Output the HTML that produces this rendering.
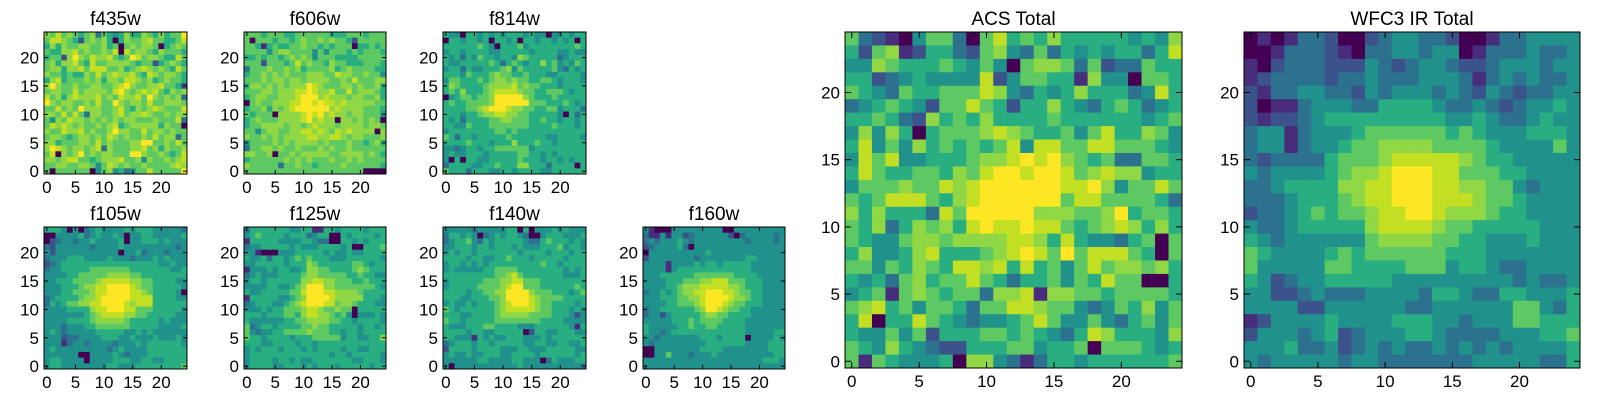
<!DOCTYPE html>
<html><head><meta charset="utf-8"><style>
html,body{margin:0;padding:0;background:#fff;}
svg{display:block;font-family:"Liberation Sans",sans-serif;}
</style></head><body>
<svg id="fig" width="1600" height="400" viewBox="0 0 1600 400" xmlns="http://www.w3.org/2000/svg"></svg>
<script>
const tickValues = [0, 5, 10, 15, 20];
const viridis = ["#440154","#472d7b","#3b528b","#2c728e","#21918c","#28ae80","#5ec962","#8fd744","#c2df23","#fde725"];
// rows listed top (y=24) to bottom (y=0); digits 0-9 are intensity levels
const f435w = ["7686765673654575576575669","6887652676750576678665568","5757667766756067677605676","6557786766768086776576665","5662797687786569867765586","6757786586677776566256765","6775778688866756787676586","7665655768678778658767765","5785666767577688767567665","7976676677667897667786652","6776686777768976787865767","8675787778676877869767673","9767766768669767768667776","6686769777667865767876668","7768686377667867787667677","6476877676767677666766683","6878767667678567777757660","7668778676679776686776766","6776567767687676676867736","7756667768676667799667686","7987677678376667786757667","6807679676776669976676568","7767886656777866747667678","6677667764687676676666787","6066666604674534668666669"];
const f606w = ["6665666556666665556665666","6066656656766767665266666","6651565566766565666055656","6666467766664646665656665","5565665676764666555566666","6662666568676657665556665","3666766767566667567666655","5667676766677766877667664","6667677677677776676866677","5776767677798766677676675","6667767778898778668677765","5677667778999787776776675","0676677788998988787777766","5667576789999997877776665","6566607777898978776776664","5676667777897877077676760","5667777677678777677776776","6646776677887876878777707","7667676777788778876776667","4666676767777676667665675","3667767667666767667666666","7766706676777776677776765","5666666767676667667676666","7666663667665666676666665","6666666666666666666660000"];
const f814w = ["5440554545455545440445455","0554554505545055455454505","5555556540555645555555565","4554555544555554555544544","5453546554554765555534555","5445555565356545575645465","4553544555674655555643545","5554655567665565554455554","4665556567767665566545554","5765555677778676655545555","5657555678888766556665455","0456656679999976555655555","5655666679999996665556545","5555667899987766556645553","5554556778877665555540535","5453555566776665565545545","5544655566666665555655545","4555555556656555555555555","6535545555565555554455554","5555655545557555655455555","4434554556666664555555555","4544555455555665545455555","4050554455555655545545455","3555544556555775553555505","6555355544554555544555555"];
const f105w = ["5554040345444454555444443","0044445345445404455444445","0234434454444504455545444","3244444434444544444444434","4244444444444044534443444","3444555444454443444545444","2345555555555555555544544","3445555566666665555555445","4444556666677776655555555","4455566667888887766555544","4445556778899998766555554","4445566678899998876555540","3455556778999998888555544","3545667788999987888555555","4444555578899988666555554","4444444567888877665555544","4444555567777765555545444","4443444556666665555544445","4543444445555544545444444","4442334444555445444544454","4441344344443444545555554","4544444444434544445555555","4444440044445434445555555","4554444044445554455445555","4554444444455444555555556"];
const f125w = ["3555555544551155455554555","4565555455534550054555545","1555554444554330055454555","3445555545444555545005556","4410004445555545445445555","5445355456565554445555554","4455555455576555555665455","1444545544577665555676555","3454445555677666665565544","4554555555778877666556555","4444554456799977666666654","5445555566899988777765555","1555554456799998777775554","3455544567899988677655544","4445455666788766766055555","5554555665788776564044454","5444444556677776655455554","6345545555667665555545545","6434455666676665545545555","6554555545556666645544557","5554455554554555555555555","4545554555454555545544555","4555555555555554554555554","4555545545445555555445554","4555544555454555455555455"];
const f140w = ["4444434444455050444545444","3554540345455430045554445","3455643545555543356555454","4455545545554544455564554","4545545555555455554555455","5555455445565554555554555","4554545455555555565545555","4544444556666555555554545","5555555556678655555554445","4555555666778866655555555","4555556666789966655555565","5555455667799997666555456","5554455566799998766665555","4544545556789998766555545","6545555556788888766555454","5554455556777776666555424","6554555556666666655554444","5444555665555444555555415","5555455445555502554455544","5544415454455544454555555","3455545545555544554455445","2555545555444554445555544","4544544555445555455555545","4444445544445544403544455","4044444444444544444444443"];
const f160w = ["4100044444444400444444444","3114144234444442034444434","3434445434444444443444434","2344445304444444444444444","0444444444454444444444444","2444444443444444445544444","4444144445455455555444444","4444145555555555555444444","4445555556666666555544444","4444555666778886665554444","4444556777888887765554444","3445456778899988766554444","4445556677899998776554444","4444556667899987665554444","3445555556799876655444444","3442455555677665555444444","4444455565666655554444444","5444445565566555554444444","5443455555555555554444455","4434444444555455550444454","4344444444455555554444555","0044444444555544444444555","0044644434445444444444455","4444444444444444444445554","4444444444444444444444444"];
const acsTotal = ["6321046630685657555554547","5267125532674363545455358","4476555654640677636233655","5523454444824665517440665","6543655666874354575553485","3456542668652557543565345","5565327565755556555555456","4747505666787655646855764","5846475656568488668866654","4868445556778989765633665","5865566576899899867877455","4666766878999999889746686","6568886578999999688666653","7575553869999977766795665","6573576758988988656787575","6544677677778875854435606","5744578555678986968886506","6646576588785856468677675","5453675668653556465866005","4561676566377817766566665","6785646653668876643465746","5805586543445686446435646","5446462555665654358755547","6547543225556645560666545","6165444507743135545555556"];
const wfc3Total = ["0101332002344332001334444","0013332103344344013334334","1023332224323443223444344","1233332334333444313434334","2133443324344434324323344","2011344433555543343234454","2122345555555554454334544","3441344456666665654445554","3441344566777766665444464","3233335666788888765544444","4344445677899988666554444","3345555778899988776643444","3334555678899988876654444","2334565667889987776554444","4334555557888876655555444","5434444446777766554445444","6544445656666665554444444","6444446655556664554334444","5423445555544444444434334","4422343334444355433554445","4444224444443344444466435","1244445444455544344466555","2444345234445543333444556","4445334234343343434344445","4344444344333333344444335"];

const panels = [
  {name:"f435w", title:"f435w", data:f435w, x:44, y:32, w:143, h:142, tick:4},
  {name:"f606w", title:"f606w", data:f606w, x:244, y:32, w:142, h:142, tick:4},
  {name:"f814w", title:"f814w", data:f814w, x:443, y:32, w:143, h:142, tick:4},
  {name:"f105w", title:"f105w", data:f105w, x:44, y:227, w:143, h:142, tick:4},
  {name:"f125w", title:"f125w", data:f125w, x:244, y:227, w:142, h:142, tick:4},
  {name:"f140w", title:"f140w", data:f140w, x:443, y:227, w:143, h:142, tick:4},
  {name:"f160w", title:"f160w", data:f160w, x:643, y:227, w:142, h:142, tick:4},
  {name:"acs-total", title:"ACS Total", data:acsTotal, x:845, y:32, w:337, h:336, tick:6},
  {name:"wfc3-ir-total", title:"WFC3 IR Total", data:wfc3Total, x:1244, y:32, w:336, h:336, tick:6}
];
const NS = "http://www.w3.org/2000/svg";
const svg = document.getElementById('fig');
function mk(tag, attrs, parent){
  const e = document.createElementNS(NS, tag);
  for (const k in attrs) e.setAttribute(k, attrs[k]);
  parent.appendChild(e); return e;
}
panels.forEach(p => {
  const n = p.data.length, m = p.data[0].length;
  const sx = v => p.x + (v + 0.5) * p.w / m;
  const sy = v => p.y + p.h - (v + 0.5) * p.h / n;
  const g = mk('g', {}, svg);
  
  
  const cw = p.w / m, ch = p.h / n;
  p.data.forEach((row, ri) => {
    const yv = n - 1 - ri;
    for (let c = 0; c < m; c++) {
      const val = +row[c];
      const r = mk('rect', {x: (sx(c) - cw/2).toFixed(2), y: (sy(yv) - ch/2).toFixed(2), width: (cw + 0.4).toFixed(2), height: (ch + 0.4).toFixed(2), fill: viridis[val]}, g);
      
      
    }
  });
  const fr = mk('rect', {x:p.x, y:p.y, width:p.w, height:p.h, fill:'none', stroke:'#000', 'stroke-width':1}, g);
  
  
  const t = mk('text', {x:p.x + p.w/2, y:p.y - 7, 'text-anchor':'middle', 'font-size':19, fill:'#000'}, g);
  t.textContent = p.title;
  
  
  tickValues.forEach(v => {
    const X = sx(v), Y = sy(v);
    mk('line', {x1:X, y1:p.y+p.h, x2:X, y2:p.y+p.h-p.tick, stroke:'#000'}, g);
    mk('line', {x1:X, y1:p.y, x2:X, y2:p.y+p.tick, stroke:'#000'}, g);
    mk('line', {x1:p.x, y1:Y, x2:p.x+p.tick, y2:Y, stroke:'#000'}, g);
    mk('line', {x1:p.x+p.w, y1:Y, x2:p.x+p.w-p.tick, y2:Y, stroke:'#000'}, g);
    const xl = mk('text', {x:X, y:p.y+p.h+19, 'text-anchor':'middle', 'font-size':17, fill:'#000'}, g);
    xl.textContent = v;
    
    
    const yl = mk('text', {x:p.x-5, y:Y+6, 'text-anchor':'end', 'font-size':17, fill:'#000'}, g);
    yl.textContent = v;
    
    
  });
});
</script>
</body></html>
